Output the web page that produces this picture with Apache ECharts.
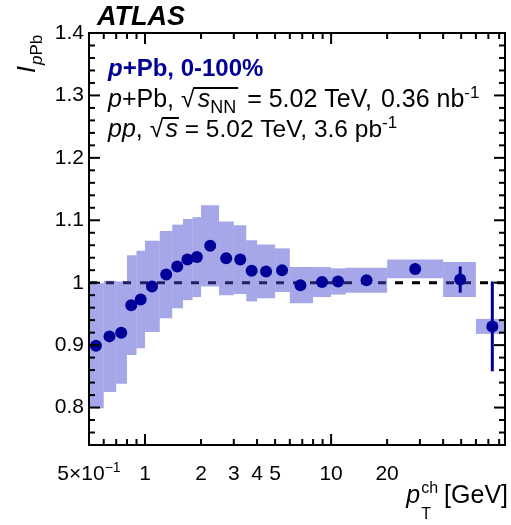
<!DOCTYPE html>
<html>
<head>
<meta charset="utf-8">
<script src="https://cdn.jsdelivr.net/npm/echarts@6/dist/echarts.min.js"></script>
<style>html,body{margin:0;padding:0;background:#fff}#c{width:511px;height:525px}</style>
</head>
<body>
<div id="c"></div>
<script>
// ---------------- data ----------------
const binLow  = [0.5,0.6,0.7,0.8,0.9,1.0,1.2,1.4,1.6,1.8,2.0,2.5,3.0,3.5,4.0,5.0,6.0,8.0,10,12,20,40,60];
const binHigh = [0.6,0.7,0.8,0.9,1.0,1.2,1.4,1.6,1.8,2.0,2.5,3.0,3.5,4.0,5.0,6.0,8.0,10,12,20,40,60,100];
const ptX     = [0.545,0.644,0.745,0.843,0.948,1.09,1.30,1.49,1.69,1.90,2.24,2.73,3.25,3.74,4.47,5.45,6.84,8.94,10.9,15.5,28.3,49.4,73.5];
const ptY     = [0.899,0.914,0.920,0.964,0.973,0.994,1.013,1.026,1.037,1.041,1.059,1.039,1.037,1.019,1.018,1.020,0.996,1.001,1.002,1.004,1.022,1.005,0.930];
const sysErr  = [0.100,0.089,0.082,0.080,0.078,0.073,0.070,0.067,0.065,0.064,0.065,0.059,0.055,0.049,0.043,0.035,0.029,0.024,0.021,0.020,0.015,0.028,0.012];
const statErr = [0.003,0.003,0.003,0.003,0.003,0.003,0.003,0.003,0.003,0.003,0.003,0.003,0.003,0.003,0.003,0.004,0.004,0.005,0.005,0.005,0.008,0.021,0.072];

const xMin = 0.5, xMax = 86, yMin = 0.74, yMax = 1.4;
const xMajorTicks = [1, 10];
const xMinorTicks = [0.6,0.7,0.8,0.9,2,3,4,5,6,7,8,9,20,30,40,50,60,70,80];
const xLabelValues = [0.5, 1, 2, 3, 4, 5, 10, 20];
const xLabelTexts  = ['5×10', '1', '2', '3', '4', '5', '10', '20'];
const xLabelSups   = ['−1', '', '', '', '', '', '', ''];
const yMajorTicks = [0.8, 0.9, 1.0, 1.1, 1.2, 1.3, 1.4];
const yLabelTexts = ['0.8', '0.9', '1', '1.1', '1.2', '1.3', '1.4'];
const yMinorTicks = [0.74,0.76,0.78,0.82,0.84,0.86,0.88,0.92,0.94,0.96,0.98,1.02,1.04,1.06,1.08,1.12,1.14,1.16,1.18,1.22,1.24,1.26,1.28,1.32,1.34,1.36,1.38];
const refLine = [[xMin, 1], [xMax, 1]];

// ---------------- style ----------------
const FONT = '"Liberation Sans", Arial, Helvetica, sans-serif';
const BLUE = '#000099';
const BOX = 'rgba(66,72,210,0.48)';
const MAJ = 11, MIN = 6;
const mctx = document.createElement('canvas').getContext('2d');
function fontStr(s) { return (s.i ? 'italic ' : 'normal ') + (s.b ? 'bold ' : 'normal ') + s.s + 'px ' + FONT; }
function tw(s) { mctx.font = fontStr(s); return mctx.measureText(s.t).width + (s.gap || 0); }
function textEl(s, x, base, color, align) {
  return { type: 'text', x: x, y: base + (s.dy || 0) - 0.35 * s.s,
    style: { text: s.t, font: fontStr(s), fill: s.c || color, align: align || 'left', verticalAlign: 'middle',
             textAlign: align || 'left', textVerticalAlign: 'middle' } };
}
function segs(list, x0, base, color) {
  let x = x0; const out = [];
  list.forEach(s => { s._start = x; out.push(textEl(s, x, base, color)); x += tw(s); s._end = x; });
  return out;
}
function segsRight(list, xEnd, base, color) {
  const w = list.reduce((a, s) => a + tw(s), 0);
  return segs(list, xEnd - w, base, color);
}

const chart = echarts.init(document.getElementById('c'), null, { renderer: 'canvas' });

// header texts
const g = [];
g.push(...segs([{ t: 'ATLAS', s: 27, b: 1, i: 1 }], 97, 27, '#000'));
g.push(...segs([{ t: 'p', s: 24, b: 1, i: 1 }, { t: '+Pb, 0-100%', s: 24, b: 1 }], 108, 78, BLUE));
const l2 = [{ t: 'p', s: 25, i: 1 }, { t: '+Pb, ', s: 25 }, { t: '√', s: 25, gap: 3 }, { t: 's', s: 25, i: 1 },
            { t: 'NN', s: 18, dy: 5, gap: 4 }, { t: ' = 5.02 TeV, ', s: 25, gap: 2 }, { t: '0.36 nb', s: 25 },
            { t: '-1', s: 17, dy: -10 }];
g.push(...segs(l2, 108, 109, '#000'));
g.push({ type: 'line', shape: { x1: l2[2]._end - 4, y1: 109 - 21, x2: l2[4]._end - 2, y2: 109 - 21 }, style: { stroke: '#000', lineWidth: 2 } });
const l3 = [{ t: 'pp', s: 25, i: 1 }, { t: ', ', s: 25 }, { t: '√', s: 25, gap: 2 }, { t: 's', s: 25, i: 1 },
            { t: ' = 5.02 TeV, 3.6 pb', s: 24.5 }, { t: '-1', s: 17, dy: -10 }];
g.push(...segs(l3, 108, 139, '#000'));
g.push({ type: 'line', shape: { x1: l3[2]._end - 3, y1: 139 - 21, x2: l3[3]._end + 1, y2: 139 - 21 }, style: { stroke: '#000', lineWidth: 2 } });
// x title
const xt = [{ t: 'p', s: 25, i: 1, gap: 1 }, { t: 'ch', s: 16, dy: -11, gap: 6 }, { t: '[GeV]', s: 25 }];
g.push(...segsRight(xt, 508, 505, '#000'));
g.push(...segs([{ t: 'T', s: 16 }], xt[0]._end, 520, '#000'));
// y title (rotated)
g.push({ type: 'group', x: 37, y: 73, rotation: Math.PI / 2,
  children: segs([{ t: 'I', s: 25, i: 1, gap: 1 }, { t: 'p', s: 17, i: 1, dy: 6 }, { t: 'Pb', s: 17, dy: 6 }], 0, 0, '#000') });

const option = {
  animation: false,
  grid: { left: 89, right: 6, top: 33, bottom: 80, show: false },
  xAxis: { type: 'log', logBase: 10, min: xMin, max: xMax, axisLine: { show: false }, axisTick: { show: false },
           axisLabel: { show: false }, splitLine: { show: false }, minorTick: { show: false } },
  yAxis: { type: 'value', min: yMin, max: yMax, axisLine: { show: false }, axisTick: { show: false },
           axisLabel: { show: false }, splitLine: { show: false } },
  graphic: g,
  series: [
    { type: 'line', data: refLine, symbol: 'none', z: 1, silent: true,
      lineStyle: { color: '#000', width: 3, type: [8, 9] } },
    { type: 'custom', z: 2, silent: true,
      data: binLow.map((lo, i) => [lo, binHigh[i], ptY[i] - sysErr[i], ptY[i] + sysErr[i]]),
      encode: { x: [0, 1], y: [2, 3] },
      renderItem: (params, api) => {
        const a = api.coord([api.value(0), api.value(3)]);
        const b = api.coord([api.value(1), api.value(2)]);
        const cs = params.coordSys;
        const r = echarts.graphic.clipRectByRect({ x: a[0], y: a[1], width: b[0] - a[0], height: b[1] - a[1] },
                                                  { x: cs.x, y: cs.y, width: cs.width, height: cs.height });
        return r && { type: 'rect', shape: r, style: { fill: BOX } };
      } },
    { type: 'custom', z: 3, silent: true,
      data: ptX.map((x, i) => [x, ptY[i] - statErr[i], ptY[i] + statErr[i]]),
      encode: { x: 0, y: [1, 2] },
      renderItem: (params, api) => {
        const a = api.coord([api.value(0), api.value(1)]);
        const b = api.coord([api.value(0), api.value(2)]);
        return { type: 'line', shape: { x1: a[0], y1: a[1], x2: b[0], y2: b[1] }, style: { stroke: BLUE, lineWidth: 3 } };
      } },
    { type: 'scatter', z: 4, silent: true, data: ptX.map((x, i) => [x, ptY[i]]), symbol: 'circle', symbolSize: 12,
      itemStyle: { color: BLUE, opacity: 1 } },
    // frame
    { type: 'custom', z: 10, silent: true, data: [[xMin, yMin]],
      renderItem: (params, api) => {
        const cs = params.coordSys;
        return { type: 'rect', shape: { x: cs.x, y: cs.y, width: cs.width, height: cs.height },
                 style: { fill: null, stroke: '#000', lineWidth: 2 } };
      } },
    // x ticks
    { type: 'custom', z: 10, silent: true,
      data: xMajorTicks.map(v => [v, yMin, MAJ]).concat(xMinorTicks.map(v => [v, yMin, MIN])),
      encode: { x: 0, y: 1 },
      renderItem: (params, api) => {
        const v = api.value(0), len = api.value(2);
        const pb = api.coord([v, yMin]), pt = api.coord([v, yMax]);
        return { type: 'group', children: [
          { type: 'line', shape: { x1: pb[0], y1: pb[1], x2: pb[0], y2: pb[1] - len }, style: { stroke: '#000', lineWidth: 2 } },
          { type: 'line', shape: { x1: pt[0], y1: pt[1], x2: pt[0], y2: pt[1] + len }, style: { stroke: '#000', lineWidth: 2 } } ] };
      } },
    // y ticks
    { type: 'custom', z: 10, silent: true,
      data: yMajorTicks.map(v => [xMin, v, MAJ]).concat(yMinorTicks.map(v => [xMin, v, MIN])),
      encode: { x: 0, y: 1 },
      renderItem: (params, api) => {
        const v = api.value(1), len = api.value(2);
        const pl = api.coord([xMin, v]), pr = api.coord([xMax, v]);
        return { type: 'group', children: [
          { type: 'line', shape: { x1: pl[0], y1: pl[1], x2: pl[0] + len, y2: pl[1] }, style: { stroke: '#000', lineWidth: 2 } },
          { type: 'line', shape: { x1: pr[0], y1: pr[1], x2: pr[0] - len, y2: pr[1] }, style: { stroke: '#000', lineWidth: 2 } } ] };
      } },
    // x labels
    { type: 'custom', z: 10, silent: true,
      data: xLabelValues.map((v, i) => [v, yMin, i]), encode: { x: 0, y: 1 },
      renderItem: (params, api) => {
        const i = api.value(2);
        const p = api.coord([api.value(0), yMin]);
        const main = { t: xLabelTexts[i], s: 21 }, sup = { t: xLabelSups[i], s: 14, dy: -9 };
        const w = tw(main) + (sup.t ? tw(sup) : 0);
        const list = sup.t ? [main, sup] : [main];
        return { type: 'group', children: segs(list, p[0] - w / 2, p[1] + 37, '#000') };
      } },
    // y labels
    { type: 'custom', z: 10, silent: true,
      data: yMajorTicks.map((v, i) => [xMin, v, i]), encode: { x: 0, y: 1 },
      renderItem: (params, api) => {
        const i = api.value(2);
        const p = api.coord([xMin, api.value(1)]);
        return textEl({ t: yLabelTexts[i], s: 21 }, p[0] - 5, p[1] + 7.5, '#000', 'right');
      } }
  ]
};
chart.setOption(option);
</script>
</body>
</html>
